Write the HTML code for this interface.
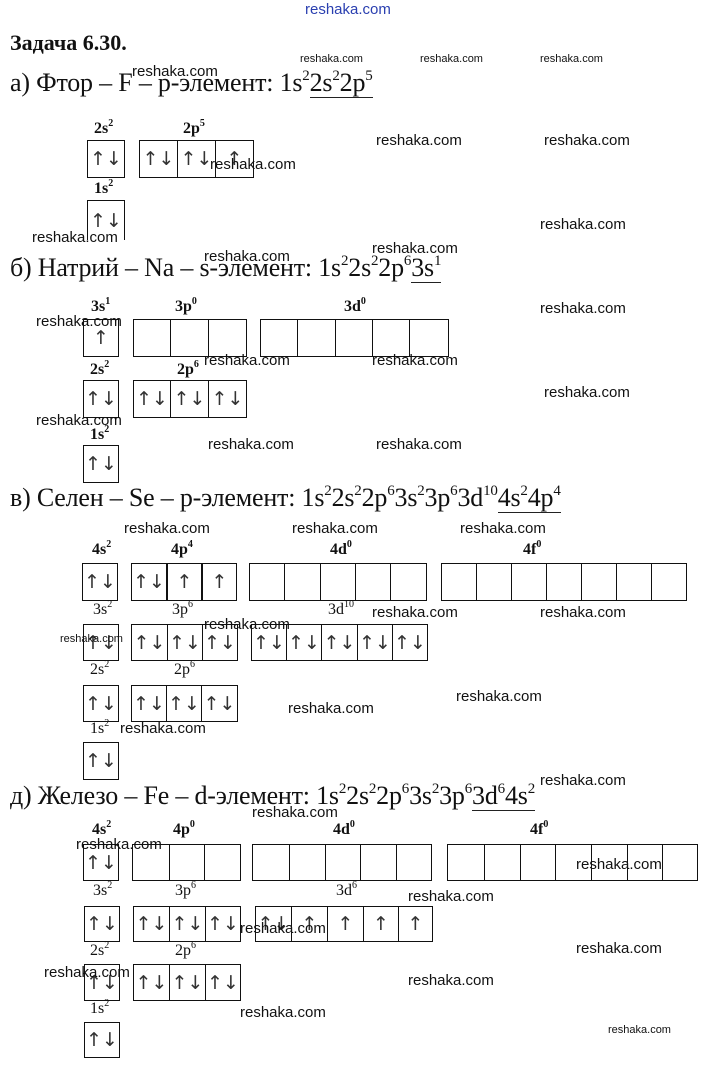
<!DOCTYPE html>
<html><head><meta charset="utf-8"><style>
*{margin:0;padding:0;box-sizing:border-box}
body{width:709px;height:1070px;background:#fff;position:relative;overflow:hidden;font-family:"Liberation Serif",serif;color:#111}
.a{position:absolute;white-space:nowrap}
.h{font-size:26px;letter-spacing:-0.2px}
.h sup{font-size:15px;vertical-align:11px;line-height:0}
.u{border-bottom:1.5px solid #222}
.l{font-size:16px;font-weight:bold}
.l sup{font-size:10px;vertical-align:7px;line-height:0}
.r{position:absolute;display:flex;border:1.5px solid #111}
.r div{border-right:1.5px solid #111;display:flex;align-items:center;justify-content:center;font-family:"DejaVu Sans",sans-serif;font-size:19px;color:#333}
.r div:last-child{border-right:none}
.w{position:absolute;font-family:"Liberation Sans",sans-serif;font-size:15px;color:#111;white-space:nowrap}
.ws{font-size:11px}
</style></head><body>

<div class="w" style="left:305px;top:1px;color:#2a3fb0">reshaka.com</div>
<div class="a" style="left:10px;top:30px;font-size:22px;font-weight:bold">Задача 6.30.</div>

<!-- a -->
<div class="a h" style="left:10px;top:68px">а) Фтор – F – p-элемент: 1s<sup>2</sup><span class="u">2s<sup>2</sup>2p<sup>5</sup></span></div>
<div class="a l" style="left:94px;top:120px">2s<sup>2</sup></div>
<div class="a l" style="left:183px;top:120px">2p<sup>5</sup></div>
<div class="r" style="left:87px;top:140px;height:38px"><div style="width:36px">↑↓</div></div>
<div class="r" style="left:139px;top:140px;height:38px"><div style="width:38px">↑↓</div><div style="width:38px">↑↓</div><div style="width:37px">↑</div></div>
<div class="a l" style="left:94px;top:180px">1s<sup>2</sup></div>
<div class="r" style="left:87px;top:200px;height:40px;border-bottom:none"><div style="width:36px">↑↓</div></div>

<!-- b -->
<div class="a h" style="left:10px;top:253px">б) Натрий – Na – s-элемент: 1s<sup>2</sup>2s<sup>2</sup>2p<sup>6</sup><span class="u">3s<sup>1</sup></span></div>
<div class="a l" style="left:91px;top:298px">3s<sup>1</sup></div>
<div class="a l" style="left:175px;top:298px">3p<sup>0</sup></div>
<div class="a l" style="left:344px;top:298px">3d<sup>0</sup></div>
<div class="r" style="left:83px;top:319px;height:38px"><div style="width:34px">↑</div></div>
<div class="r" style="left:133px;top:319px;height:38px"><div style="width:37px"></div><div style="width:38px"></div><div style="width:37px"></div></div>
<div class="r" style="left:260px;top:319px;height:38px"><div style="width:37px"></div><div style="width:38px"></div><div style="width:37px"></div><div style="width:37px"></div><div style="width:38px"></div></div>
<div class="a l" style="left:90px;top:361px">2s<sup>2</sup></div>
<div class="a l" style="left:177px;top:361px">2p<sup>6</sup></div>
<div class="r" style="left:83px;top:380px;height:38px"><div style="width:34px">↑↓</div></div>
<div class="r" style="left:133px;top:380px;height:38px"><div style="width:37px">↑↓</div><div style="width:38px">↑↓</div><div style="width:37px">↑↓</div></div>
<div class="a l" style="left:90px;top:426px">1s<sup>2</sup></div>
<div class="r" style="left:83px;top:445px;height:38px"><div style="width:34px">↑↓</div></div>

<!-- c -->
<div class="a h" style="left:10px;top:483px">в) Селен – Se – p-элемент: 1s<sup>2</sup>2s<sup>2</sup>2p<sup>6</sup>3s<sup>2</sup>3p<sup>6</sup>3d<sup>10</sup><span class="u">4s<sup>2</sup>4p<sup>4</sup></span></div>
<div class="a l" style="left:92px;top:541px">4s<sup>2</sup></div>
<div class="a l" style="left:171px;top:541px">4p<sup>4</sup></div>
<div class="a l" style="left:330px;top:541px">4d<sup>0</sup></div>
<div class="a l" style="left:523px;top:541px">4f<sup>0</sup></div>
<div class="r" style="left:82px;top:563px;height:38px"><div style="width:34px">↑↓</div></div>
<div class="r" style="left:131px;top:563px;height:38px"><div style="width:35px">↑↓</div><div style="width:36px;border-left:1.5px solid #111;border-right:2px solid #111">↑</div><div style="width:33px">↑</div></div>
<div class="r" style="left:249px;top:563px;height:38px"><div style="width:35px"></div><div style="width:36px"></div><div style="width:35px"></div><div style="width:35px"></div><div style="width:35px"></div></div>
<div class="r" style="left:441px;top:563px;height:38px"><div style="width:35px"></div><div style="width:35px"></div><div style="width:35px"></div><div style="width:35px"></div><div style="width:35px"></div><div style="width:35px"></div><div style="width:34px"></div></div>
<div class="a l" style="left:93px;top:601px;font-weight:normal">3s<sup>2</sup></div>
<div class="a l" style="left:172px;top:601px;font-weight:normal">3p<sup>6</sup></div>
<div class="a l" style="left:328px;top:601px;font-weight:normal">3d<sup>10</sup></div>
<div class="r" style="left:83px;top:624px;height:37px"><div style="width:34px">↑↓</div></div>
<div class="r" style="left:131px;top:624px;height:37px"><div style="width:36px">↑↓</div><div style="width:35px">↑↓</div><div style="width:34px">↑↓</div></div>
<div class="r" style="left:251px;top:624px;height:37px"><div style="width:35px">↑↓</div><div style="width:35px">↑↓</div><div style="width:36px">↑↓</div><div style="width:35px">↑↓</div><div style="width:34px">↑↓</div></div>
<div class="a l" style="left:90px;top:661px;font-weight:normal">2s<sup>2</sup></div>
<div class="a l" style="left:174px;top:661px;font-weight:normal">2p<sup>6</sup></div>
<div class="r" style="left:83px;top:685px;height:37px"><div style="width:34px">↑↓</div></div>
<div class="r" style="left:131px;top:685px;height:37px"><div style="width:35px">↑↓</div><div style="width:35px">↑↓</div><div style="width:35px">↑↓</div></div>
<div class="a l" style="left:90px;top:720px;font-weight:normal">1s<sup>2</sup></div>
<div class="r" style="left:83px;top:742px;height:38px"><div style="width:34px">↑↓</div></div>

<!-- d -->
<div class="a h" style="left:10px;top:781px">д) Железо – Fe – d-элемент: 1s<sup>2</sup>2s<sup>2</sup>2p<sup>6</sup>3s<sup>2</sup>3p<sup>6</sup><span class="u">3d<sup>6</sup>4s<sup>2</sup></span></div>
<div class="a l" style="left:92px;top:821px">4s<sup>2</sup></div>
<div class="a l" style="left:173px;top:821px">4p<sup>0</sup></div>
<div class="a l" style="left:333px;top:821px">4d<sup>0</sup></div>
<div class="a l" style="left:530px;top:821px">4f<sup>0</sup></div>
<div class="r" style="left:83px;top:844px;height:37px"><div style="width:34px">↑↓</div></div>
<div class="r" style="left:132px;top:844px;height:37px"><div style="width:37px"></div><div style="width:35px"></div><div style="width:35px"></div></div>
<div class="r" style="left:252px;top:844px;height:37px"><div style="width:37px"></div><div style="width:36px"></div><div style="width:35px"></div><div style="width:36px"></div><div style="width:34px"></div></div>
<div class="r" style="left:447px;top:844px;height:37px"><div style="width:37px"></div><div style="width:36px"></div><div style="width:35px"></div><div style="width:36px"></div><div style="width:36px"></div><div style="width:35px"></div><div style="width:34px"></div></div>
<div class="a l" style="left:93px;top:882px;font-weight:normal">3s<sup>2</sup></div>
<div class="a l" style="left:175px;top:882px;font-weight:normal">3p<sup>6</sup></div>
<div class="a l" style="left:336px;top:882px;font-weight:normal">3d<sup>6</sup></div>
<div class="r" style="left:84px;top:906px;height:36px"><div style="width:34px">↑↓</div></div>
<div class="r" style="left:133px;top:906px;height:36px"><div style="width:36px">↑↓</div><div style="width:36px">↑↓</div><div style="width:34px">↑↓</div></div>
<div class="r" style="left:255px;top:906px;height:36px"><div style="width:36px">↑↓</div><div style="width:36px">↑</div><div style="width:36px">↑</div><div style="width:35px">↑</div><div style="width:33px">↑</div></div>
<div class="a l" style="left:90px;top:942px;font-weight:normal">2s<sup>2</sup></div>
<div class="a l" style="left:175px;top:942px;font-weight:normal">2p<sup>6</sup></div>
<div class="r" style="left:84px;top:964px;height:37px"><div style="width:34px">↑↓</div></div>
<div class="r" style="left:133px;top:964px;height:37px"><div style="width:36px">↑↓</div><div style="width:36px">↑↓</div><div style="width:34px">↑↓</div></div>
<div class="a l" style="left:90px;top:1000px;font-weight:normal">1s<sup>2</sup></div>
<div class="r" style="left:84px;top:1022px;height:36px"><div style="width:34px">↑↓</div></div>

<!-- watermarks -->
<div class="w ws" style="left:300px;top:53px">reshaka.com</div>
<div class="w ws" style="left:420px;top:53px">reshaka.com</div>
<div class="w ws" style="left:540px;top:53px">reshaka.com</div>
<div class="w" style="left:132px;top:63px">reshaka.com</div>
<div class="w" style="left:376px;top:132px">reshaka.com</div>
<div class="w" style="left:544px;top:132px">reshaka.com</div>
<div class="w" style="left:210px;top:156px">reshaka.com</div>
<div class="w" style="left:540px;top:216px">reshaka.com</div>
<div class="w" style="left:32px;top:229px">reshaka.com</div>
<div class="w" style="left:372px;top:240px">reshaka.com</div>
<div class="w" style="left:204px;top:248px">reshaka.com</div>
<div class="w" style="left:540px;top:300px">reshaka.com</div>
<div class="w" style="left:36px;top:313px">reshaka.com</div>
<div class="w" style="left:204px;top:352px">reshaka.com</div>
<div class="w" style="left:372px;top:352px">reshaka.com</div>
<div class="w" style="left:544px;top:384px">reshaka.com</div>
<div class="w" style="left:36px;top:412px">reshaka.com</div>
<div class="w" style="left:208px;top:436px">reshaka.com</div>
<div class="w" style="left:376px;top:436px">reshaka.com</div>
<div class="w" style="left:124px;top:520px">reshaka.com</div>
<div class="w" style="left:292px;top:520px">reshaka.com</div>
<div class="w" style="left:460px;top:520px">reshaka.com</div>
<div class="w" style="left:372px;top:604px">reshaka.com</div>
<div class="w" style="left:540px;top:604px">reshaka.com</div>
<div class="w" style="left:204px;top:616px">reshaka.com</div>
<div class="w ws" style="left:60px;top:633px">reshaka.com</div>
<div class="w" style="left:456px;top:688px">reshaka.com</div>
<div class="w" style="left:288px;top:700px">reshaka.com</div>
<div class="w" style="left:120px;top:720px">reshaka.com</div>
<div class="w" style="left:540px;top:772px">reshaka.com</div>
<div class="w" style="left:252px;top:804px">reshaka.com</div>
<div class="w" style="left:76px;top:836px">reshaka.com</div>
<div class="w" style="left:576px;top:856px">reshaka.com</div>
<div class="w" style="left:408px;top:888px">reshaka.com</div>
<div class="w" style="left:240px;top:920px">reshaka.com</div>
<div class="w" style="left:576px;top:940px">reshaka.com</div>
<div class="w" style="left:44px;top:964px">reshaka.com</div>
<div class="w" style="left:408px;top:972px">reshaka.com</div>
<div class="w" style="left:240px;top:1004px">reshaka.com</div>
<div class="w ws" style="left:608px;top:1024px">reshaka.com</div>
</body></html>
